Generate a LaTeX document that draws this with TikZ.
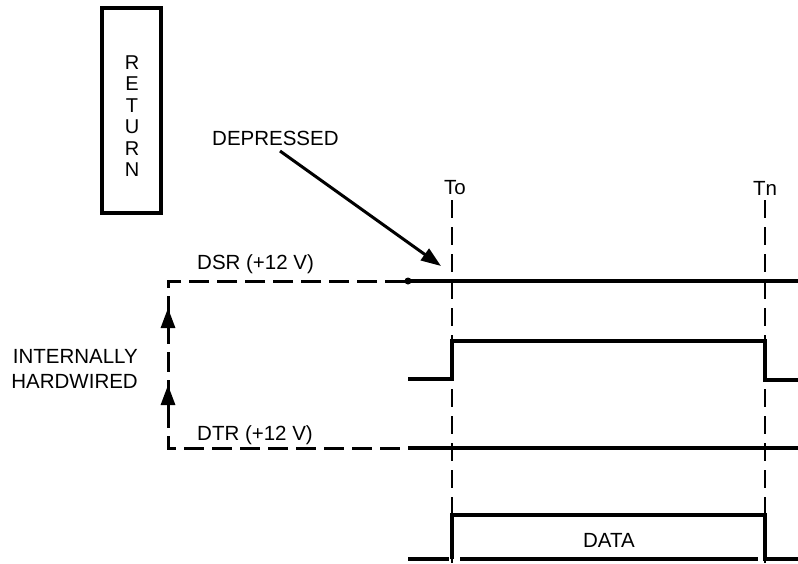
\documentclass[tikz,border=0pt]{standalone}
\usepackage{fontspec}
\setmainfont{Liberation Sans}
\usetikzlibrary{arrows.meta,calc}

\tikzset{
  sig/.style={line width=4pt},
  wire/.style={line width=3pt,dash pattern=on 20pt off 8pt},
  tline/.style={line width=2.8pt,dash pattern=on 18pt off 9pt},
  lbl/.style={font=\fontsize{20.5}{25}\selectfont,inner sep=0pt},
  uparr/.style={line width=3pt,-{Triangle[length=20pt,width=14pt]}}
}

\begin{document}
\begin{tikzpicture}[x=1pt,y=-1pt]
\useasboundingbox (0,0) rectangle (798,563);

\coordinate (To) at (452,200);
\coordinate (Tn) at (765,200);
\coordinate (ToB) at (452,563);
\coordinate (TnB) at (765,563);

\coordinate (C1) at (168,281);
\coordinate (C2) at (168,448);
\coordinate (S1) at (408,281);
\coordinate (S2) at (408,448);
\coordinate (E1) at (798,281);
\coordinate (E2) at (798,448);

\node[draw,line width=4pt,minimum width=59pt,minimum height=205pt,inner sep=0pt] (ret) at (131.5,110.5) {};
\node[lbl,align=center,font=\fontsize{20}{21.5}\selectfont] (rettxt) at (132,116) {R\\E\\T\\U\\R\\N};

\node[lbl,anchor=base west] (dep) at (212,145) {DEPRESSED};
\node[lbl] (to) at (455,188) {To};
\node[lbl] (tn) at (765,188) {Tn};
\node[lbl,anchor=base west] (dsr) at (197,269) {DSR (+12 V)};
\node[lbl,anchor=base west] (dtr) at (197,440) {DTR (+12 V)};
\node[lbl,align=right,anchor=east] (hw) at (138,369) {INTERNALLY\\HARDWIRED};
\node[lbl] (data) at (609,540) {DATA};

\draw[tline] (To) -- (ToB);
\draw[tline] (Tn) -- (TnB);

\draw[wire] ($(S1)+(-3,0)$) -- (C1) -- (C2) -- ($(S2)+(-6,0)$);
\draw[uparr] (168,342) -- (168,308);
\draw[uparr] (168,418) -- (168,385);

\draw[sig] (S1) -- (E1);
\fill (S1) circle (3.5pt);
\draw[sig] (S2) -- (E2);

\draw[sig] (408,379) -- (452,379) -- (452,341) -- (765,341) -- (765,380) -- (798,380);

\draw[sig] (408,559) -- (449,559);
\draw[sig] (452,559) -- (452,515) -- (765,515) -- (765,559) -- (798,559);
\draw[sig] (460,559) -- (758,559);

\draw[line width=3pt,-{Triangle[length=20pt,width=14pt]}] (280,151) -- (441,266);

\end{tikzpicture}
\end{document}
